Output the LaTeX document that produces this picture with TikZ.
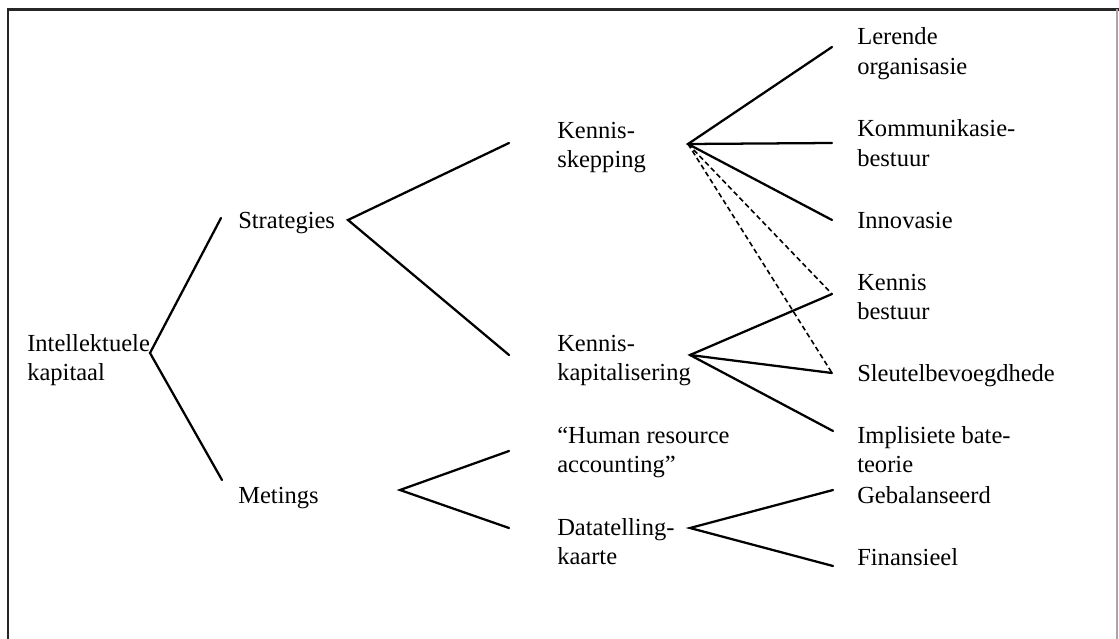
\documentclass[tikz,border=0pt]{standalone}
\usepackage{fontspec}
\setmainfont{Liberation Serif}
\newcommand{\twolines}[2]{\vtop{\baselineskip=22pt\hbox{#1}\hbox{#2}}}
\begin{document}
\begin{tikzpicture}[x=0.75pt,y=-0.75pt,
  lbl/.style={anchor=base west,inner sep=0pt,font=\fontsize{18.4}{22}\selectfont},
  branch/.style={line width=1.7pt,line cap=round,line join=miter},
  link/.style={line width=1.2pt,dash pattern=on 3.8pt off 2.4pt}]
\useasboundingbox (0,0) rectangle (1119,638);
\fill[white] (0,0) rectangle (1119,638);
% frame
\draw[line width=1.8pt,black!85] (8,645) -- (8,9.5) -- (1125,9.5);
\draw[line width=0.8pt,black!35] (1117,9.5) -- (1117,645);

% labels
\node[lbl] (ik) at (27,351) {\twolines{Intellektuele}{kapitaal}};
\node[lbl] (st) at (238,228) {Strategies};
\node[lbl] (me) at (238,503) {Metings};
\node[lbl] (ks) at (557,138) {\twolines{Kennis-}{skepping}};
\node[lbl] (kk) at (557,351) {\twolines{Kennis-}{kapitalisering}};
\node[lbl] (hr) at (557,443) {\twolines{“Human resource}{accounting”}};
\node[lbl] (dk) at (557,535) {\twolines{Datatelling-}{kaarte}};
\node[lbl] (lo) at (857,45) {\twolines{Lerende}{organisasie}};
\node[lbl] (kb) at (857,137) {\twolines{Kommunikasie-}{bestuur}};
\node[lbl] (in) at (857,228) {Innovasie};
\node[lbl] (ke) at (857,290) {\twolines{Kennis}{bestuur}};
\node[lbl] (sl) at (857,381) {Sleutelbevoegdhede};
\node[lbl] (ib) at (857,443) {\twolines{Implisiete bate-}{teorie}};
\node[lbl] (ge) at (857,503) {Gebalanseerd};
\node[lbl] (fi) at (857,565) {Finansieel};

% branch points and line ends
\coordinate (jIK) at (150,353);
\coordinate (eST) at (221,218);
\coordinate (eME) at (222,480);
\coordinate (jST) at (348,220);
\coordinate (eKS) at (509,143);
\coordinate (eKK) at (509,355);
\coordinate (jKS) at (688,144);
\coordinate (eLO) at (832,47);
\coordinate (eKB) at (832,143);
\coordinate (eIN) at (832,220);
\coordinate (jKK) at (690,355);
\coordinate (eKE) at (832,294);
\coordinate (eSL) at (832,373);
\coordinate (eIB) at (833,431);
\coordinate (jME) at (400,490);
\coordinate (eHR) at (509,451);
\coordinate (eDK) at (509,528);
\coordinate (jDK) at (690,528);
\coordinate (eGE) at (833,490);
\coordinate (eFI) at (833,566);

% tree branches
\draw[branch] (eST) -- (jIK) -- (eME);
\draw[branch] (eKS) -- (jST) -- (eKK);
\draw[branch] (eLO) -- (jKS) -- (eIN);
\draw[branch] (jKS) -- (eKB);
\draw[branch] (eKE) -- (jKK) -- (eIB);
\draw[branch] (jKK) -- (eSL);
\draw[branch] (eHR) -- (jME) -- (eDK);
\draw[branch] (eGE) -- (jDK) -- (eFI);

% cross links
\draw[link] (jKS) -- (eKE);
\draw[link] (jKS) -- (eSL);
\end{tikzpicture}
\end{document}
